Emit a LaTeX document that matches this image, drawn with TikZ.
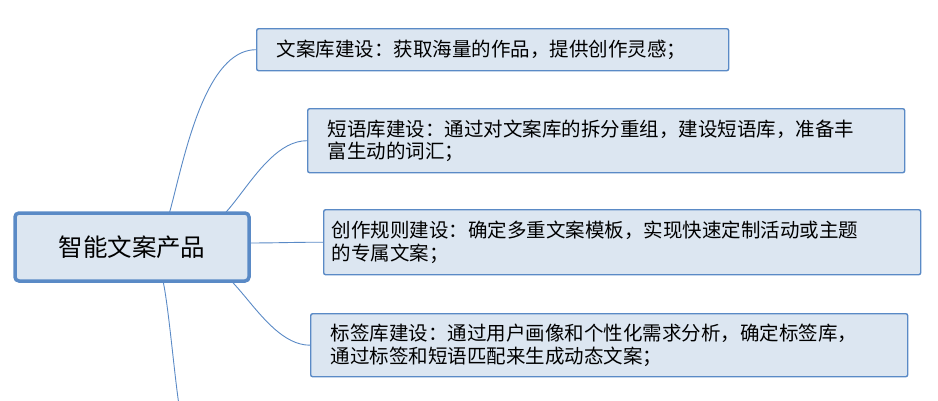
\documentclass[tikz,border=0pt]{standalone}
\usepackage{fontspec}
\newfontfamily\cjk{Noto Sans CJK SC}
\definecolor{bd}{HTML}{5A8AC6}
\definecolor{fl}{HTML}{DCE6F1}
\begin{document}
\begin{tikzpicture}[x=1pt,y=-1pt,font=\cjk\fontsize{19.5}{22.5}\selectfont,
  child/.style={draw=bd,fill=fl,line width=1.4pt,rounded corners=2pt,anchor=north west,align=left,inner sep=0pt},
  link/.style={draw=bd,line width=0.9pt}]
\useasboundingbox (0,0) rectangle (938,400);
\clip (0,0) rectangle (938,400);
\coordinate (r1) at (155,216);
\coordinate (r2) at (190,216);
\coordinate (r3) at (246,243);
\coordinate (r4) at (195,278);
\coordinate (r5) at (155,278);
\coordinate (c5) at (188,420);
\node[child,minimum width=472pt,minimum height=42pt,text width=472pt] (c1) at (256,28) {\hspace*{20pt}文案库建设：获取海量的作品，提供创作灵感；};
\node[child,minimum width=597pt,minimum height=64pt,text width=597pt] (c2) at (307,108) {\hspace*{20pt}\parbox{570pt}{短语库建设：通过对文案库的拆分重组，建设短语库，准备丰\\富生动的词汇；}};
\node[child,minimum width=597pt,minimum height=65pt,text width=597pt] (c3) at (323,209) {\hspace*{8pt}\parbox{580pt}{创作规则建设：确定多重文案模板，实现快速定制活动或主题\\的专属文案；}};
\node[child,minimum width=597pt,minimum height=63pt,text width=597pt] (c4) at (310,313) {\hspace*{20pt}\parbox{570pt}{标签库建设：通过用户画像和个性化需求分析，确定标签库，\\通过标签和短语匹配来生成动态文案；}};
\draw[link] (r1) to[out=-78,in=180] (c1.west);
\draw[link] (r2) to[out=-55,in=180] (c2.west);
\draw[link] (r3) to[out=0,in=180] (c3.west);
\draw[link] (r4) to[out=55,in=180] (c4.west);
\draw[link] (r5) to[out=78,in=-100] (c5);
\node[draw=bd,fill=fl,line width=3.5pt,rounded corners=4pt,minimum width=234pt,minimum height=68pt,font=\cjk\fontsize{24.5}{28}\selectfont] (root) at (132,247) {智能文案产品};
\end{tikzpicture}
\end{document}
